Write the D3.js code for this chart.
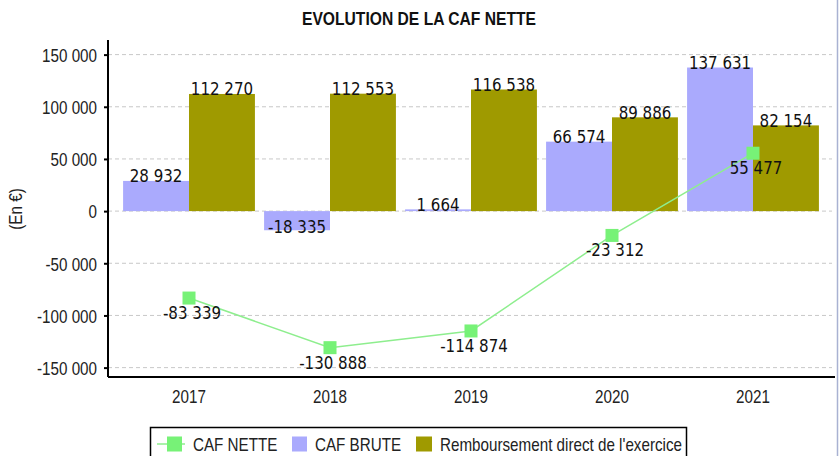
<!DOCTYPE html>
<html>
<head>
<meta charset="utf-8">
<script src="https://cdn.jsdelivr.net/npm/d3@7"></script>
<style>
  body { margin: 0; background: #fff; }
  svg { display: block; }
</style>
</head>
<body>
<div id="chart"></div>
<script>
// data
let years = ["2017", "2018", "2019", "2020", "2021"];
let cafBrute = [28932, -18335, 1664, 66574, 137631];
let remboursement = [112270, 112553, 116538, 89886, 82154];
let cafNette = [-83339, -130888, -114874, -23312, 55477];
let yTicks = [150000, 100000, 50000, 0, -50000, -100000, -150000];

let width = 839;
let height = 456;

let fmt = function(v) {
    let s = Math.abs(v).toString().replace(/\B(?=(\d{3})+(?!\d))/g, " ");
    return (v < 0 ? "-" : "") + s;
};

let svg = d3.select("#chart")
    .append("svg")
    .attr("width", width)
    .attr("height", height);

let plotLeft = 108, plotRight = 834, plotTop = 40, plotBottom = 377;

let yScale = d3.scaleLinear()
    .domain([-159000, 164000])
    .range([plotBottom, plotTop]);

let xScale = d3.scaleBand()
    .domain(years)
    .range([plotLeft, plotRight])
    .paddingInner(0.065)
    .paddingOuter(0.107);

let xSub = d3.scaleBand()
    .domain(["brute", "remb"])
    .range([0, xScale.bandwidth()]);

let sansFont = "'Liberation Sans', Arial, sans-serif";
let labelFont = "'DejaVu Sans', sans-serif";

// gridlines
svg.append("g")
    .selectAll("line")
    .data(yTicks)
    .enter()
    .append("line")
    .attr("x1", plotLeft)
    .attr("x2", 832)
    .attr("y1", function(d) { return yScale(d); })
    .attr("y2", function(d) { return yScale(d); })
    .attr("stroke", "#c8c8c8")
    .attr("stroke-dasharray", "4,3");

// bars
let rows = years.map(function(y, i) {
    return {year: y, brute: cafBrute[i], remb: remboursement[i], nette: cafNette[i]};
});

let colors = {brute: "#aaaafd", remb: "#9f9a00"};

["brute", "remb"].forEach(function(key) {
    svg.append("g")
        .selectAll("rect")
        .data(rows)
        .enter()
        .append("rect")
        .attr("x", function(d) { return xScale(d.year) + xSub(key); })
        .attr("width", xSub.bandwidth())
        .attr("y", function(d) { return yScale(Math.max(0, d[key])); })
        .attr("height", function(d) { return Math.abs(yScale(d[key]) - yScale(0)); })
        .attr("fill", colors[key]);
});

// bar labels
["brute", "remb"].forEach(function(key) {
    svg.append("g")
        .selectAll("text")
        .data(rows)
        .enter()
        .append("text")
        .attr("class", "lbl")
        .attr("x", function(d) { return xScale(d.year) + xSub(key) + xSub.bandwidth() / 2; })
        .attr("y", function(d) { return yScale(d[key]) + (d[key] < 0 ? 3 : 1.5); })
        .attr("text-anchor", "middle")
        .style("font-family", labelFont)
        .style("font-size", "17.5px")
        .attr("fill", "#111")
        .text(function(d) { return fmt(d[key]); });
});

// y axis
let yAxis = d3.axisLeft(yScale)
    .tickValues(yTicks)
    .tickSize(4)
    .tickFormat(fmt);

let gy = svg.append("g")
    .attr("transform", "translate(" + plotLeft + ",0)")
    .call(yAxis);
gy.select(".domain").attr("stroke", "#000").attr("stroke-width", 2).attr("d", "M0," + plotTop + "V" + plotBottom);
gy.selectAll(".tick line").attr("stroke", "#000").attr("stroke-width", 2);
gy.selectAll(".tick text")
    .attr("class", "sq")
    .attr("x", -11)
    .attr("dy", "0.36em")
    .style("font-family", sansFont)
    .style("font-size", "19px")
    .attr("fill", "#222");

// x axis
let xAxis = d3.axisBottom(xScale).tickSize(0);
let gx = svg.append("g")
    .attr("transform", "translate(0," + plotBottom + ")")
    .call(xAxis);
gx.select(".domain").attr("stroke", "#000").attr("stroke-width", 2).attr("d", "M" + plotLeft + ",0H835");
gx.selectAll(".tick text")
    .attr("class", "sq")
    .attr("y", 26)
    .attr("dy", 0)
    .style("font-family", sansFont)
    .style("font-size", "19px")
    .attr("fill", "#222");

// CAF nette line
let line = d3.line()
    .x(function(d) { return xScale(d.year) + xScale.bandwidth() / 2; })
    .y(function(d) { return yScale(d.nette); });

svg.append("path")
    .datum(rows)
    .attr("d", line)
    .attr("fill", "none")
    .attr("stroke", "#8eee8e")
    .attr("stroke-width", 1.5);

svg.append("g")
    .selectAll("rect")
    .data(rows)
    .enter()
    .append("rect")
    .attr("x", function(d) { return xScale(d.year) + xScale.bandwidth() / 2 - 6.5; })
    .attr("y", function(d) { return yScale(d.nette) - 6.5; })
    .attr("width", 13)
    .attr("height", 13)
    .attr("fill", "#77f277");

svg.append("g")
    .selectAll("text")
    .data(rows)
    .enter()
    .append("text")
    .attr("class", "lbl")
    .attr("x", function(d) { return xScale(d.year) + xScale.bandwidth() / 2 + 3; })
    .attr("y", function(d) { return yScale(d.nette) + 21; })
    .attr("text-anchor", "middle")
    .style("font-family", labelFont)
    .style("font-size", "17.5px")
    .attr("fill", "#111")
    .text(function(d) { return fmt(d.nette); });

// title
svg.append("text")
    .attr("id", "title")
    .attr("x", 419)
    .attr("y", 25)
    .attr("text-anchor", "middle")
    .style("font-family", sansFont)
    .style("font-weight", "bold")
    .style("font-size", "19px")
    .attr("fill", "#111")
    .text("EVOLUTION DE LA CAF NETTE");

// y label
svg.append("text")
    .attr("class", "sq")
    .attr("transform", "translate(22,209) rotate(-90)")
    .attr("text-anchor", "middle")
    .style("font-family", sansFont)
    .style("font-size", "19px")
    .attr("fill", "#222")
    .text("(En €)");

// legend
let legend = svg.append("g");
legend.append("rect")
    .attr("x", 150.5)
    .attr("y", 427.5)
    .attr("width", 536)
    .attr("height", 40)
    .attr("fill", "#fff")
    .attr("stroke", "#000")
    .attr("stroke-width", 1.5);

let ly = 444;
legend.append("line")
    .attr("x1", 157).attr("x2", 185)
    .attr("y1", ly).attr("y2", ly)
    .attr("stroke", "#8eee8e")
    .attr("stroke-width", 1.5);
legend.append("rect")
    .attr("x", 167).attr("y", ly - 7.5)
    .attr("width", 15).attr("height", 15)
    .attr("fill", "#77f277");
legend.append("rect")
    .attr("x", 292).attr("y", ly - 7.5)
    .attr("width", 15).attr("height", 15)
    .attr("fill", colors.brute);
legend.append("rect")
    .attr("x", 416).attr("y", ly - 7.5)
    .attr("width", 16).attr("height", 15)
    .attr("fill", colors.remb);

let legendItems = [["CAF NETTE", 193], ["CAF BRUTE", 315], ["Remboursement direct de l'exercice", 440]];
legend.selectAll("text.leg")
    .data(legendItems)
    .enter()
    .append("text")
    .attr("class", "sq leg")
    .attr("x", function(d) { return d[1]; })
    .attr("y", ly + 7)
    .style("font-family", sansFont)
    .style("font-size", "19px")
    .attr("fill", "#222")
    .text(function(d) { return d[0]; });

// right border of the snapshot
svg.append("line")
    .attr("x1", 837.5).attr("x2", 837.5)
    .attr("y1", 0).attr("y2", height)
    .attr("stroke", "#a9b2d2")
    .attr("stroke-width", 1.5);

// the picture is slightly squeezed sideways: narrow the text to match
svg.selectAll("text.sq").each(function() {
    let w = this.getComputedTextLength();
    d3.select(this).attr("textLength", w * 0.8).attr("lengthAdjust", "spacingAndGlyphs");
});
svg.selectAll("text.lbl").each(function() {
    let w = this.getComputedTextLength();
    d3.select(this).attr("textLength", w * 0.86).attr("lengthAdjust", "spacingAndGlyphs");
});
d3.select("#title").attr("textLength", 234).attr("lengthAdjust", "spacingAndGlyphs");
</script>
</body>
</html>
